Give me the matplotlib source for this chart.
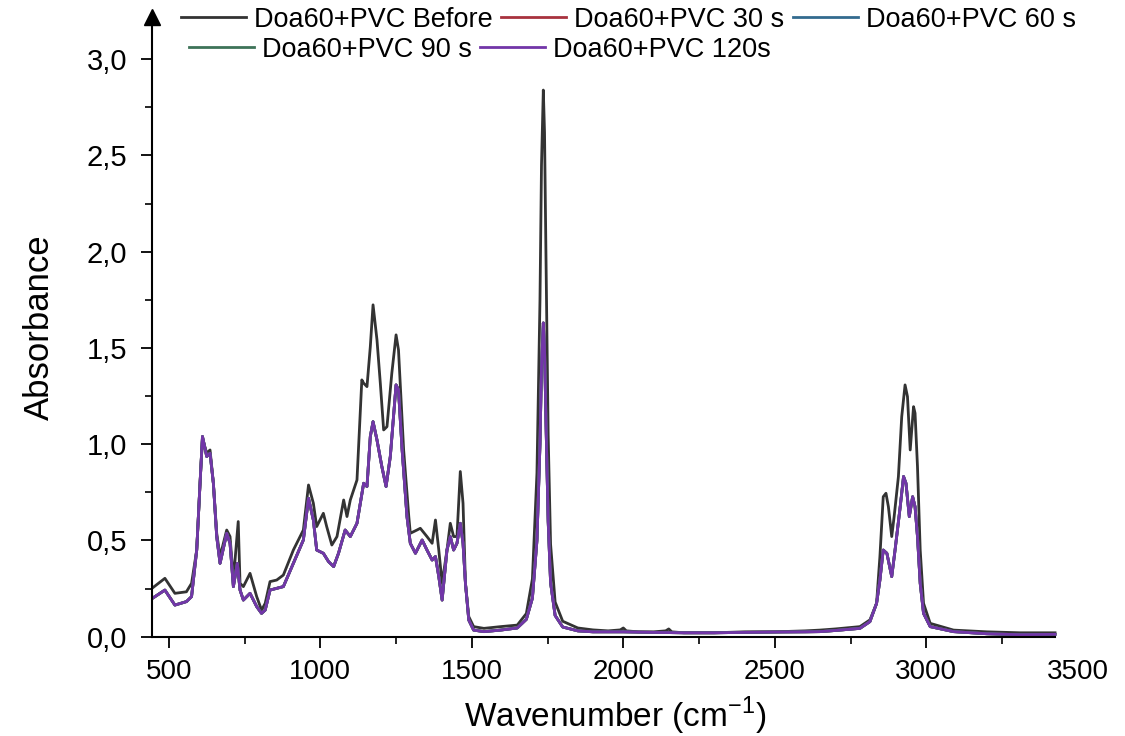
import matplotlib
matplotlib.use("Agg")
import matplotlib.pyplot as plt
from matplotlib.ticker import FixedLocator, MultipleLocator, FuncFormatter

plt.rcParams.update({
    "font.family": ["Liberation Sans", "DejaVu Sans"],
    "mathtext.fontset": "custom",
    "mathtext.rm": "Liberation Sans",
    "axes.spines.top": False,
    "axes.spines.right": False,
})

# --- data ------------------------------------------------------------------
wn_before = [437, 487, 520, 558, 575, 592, 603, 611, 625, 636, 647, 658, 669, 691,
             702, 713, 729, 735, 746, 768, 790, 806, 818, 834, 856, 878, 911, 944,
             961, 977, 988, 1010, 1021, 1038, 1055, 1077, 1088, 1099, 1121, 1137,
             1143, 1154, 1165, 1174, 1187, 1198, 1209, 1220, 1236, 1250, 1258, 1275,
             1292, 1297, 1319, 1330, 1352, 1369, 1380, 1391, 1402, 1418, 1429, 1440,
             1451, 1462, 1471, 1479, 1490, 1506, 1540, 1595, 1650, 1680, 1700, 1715,
             1725, 1730, 1736, 1740, 1745, 1752, 1760, 1775, 1800, 1850, 1900, 1950,
             1990, 2000, 2010, 2050, 2100, 2140, 2150, 2160, 2200, 2300, 2400, 2500,
             2600, 2649, 2700, 2781, 2814, 2836, 2847, 2858, 2867, 2875, 2886, 2894,
             2908, 2919, 2930, 2938, 2947, 2958, 2963, 2971, 2980, 2991, 3013, 3090,
             3200, 3310, 3425]
abs_before = [0.242, 0.303, 0.225, 0.233, 0.277, 0.450, 0.797, 1.031, 0.953, 0.970,
              0.797, 0.537, 0.416, 0.554, 0.520, 0.294, 0.598, 0.277, 0.260, 0.329,
              0.208, 0.138, 0.173, 0.286, 0.294, 0.320, 0.450, 0.554, 0.788, 0.693,
              0.572, 0.641, 0.572, 0.476, 0.520, 0.710, 0.624, 0.710, 0.814, 1.334,
              1.317, 1.299, 1.507, 1.724, 1.542, 1.317, 1.074, 1.091, 1.369, 1.568,
              1.490, 0.970, 0.624, 0.537, 0.554, 0.563, 0.520, 0.485, 0.606, 0.450,
              0.277, 0.450, 0.589, 0.520, 0.520, 0.858, 0.693, 0.277, 0.104, 0.052,
              0.043, 0.052, 0.060, 0.120, 0.300, 0.850, 1.750, 2.450, 2.840, 2.620,
              1.950, 1.050, 0.480, 0.180, 0.080, 0.045, 0.035, 0.030, 0.035, 0.045,
              0.030, 0.025, 0.025, 0.030, 0.040, 0.025, 0.020, 0.020, 0.025, 0.025,
              0.030, 0.034, 0.040, 0.052, 0.087, 0.173, 0.416, 0.727, 0.745, 0.675,
              0.520, 0.624, 0.831, 1.143, 1.308, 1.247, 0.970, 1.195, 1.161, 0.884,
              0.450, 0.173, 0.069, 0.034, 0.025, 0.020, 0.020]

# the four irradiated spectra lie on top of each other in the picture
wn_after = [437, 487, 520, 558, 575, 592, 603, 611, 625, 636, 647, 658, 669, 691,
            702, 713, 726, 735, 746, 768, 790, 806, 818, 834, 856, 878, 911, 944,
            961, 977, 988, 1010, 1027, 1044, 1060, 1082, 1099, 1121, 1143, 1154,
            1165, 1174, 1187, 1203, 1217, 1231, 1250, 1258, 1270, 1286, 1297, 1314,
            1336, 1352, 1369, 1380, 1391, 1402, 1418, 1429, 1440, 1451, 1462, 1471,
            1479, 1490, 1506, 1540, 1595, 1650, 1680, 1700, 1715, 1725, 1730, 1736,
            1740, 1745, 1752, 1760, 1775, 1800, 1850, 1900, 2000, 2100, 2200, 2300,
            2400, 2500, 2600, 2649, 2700, 2781, 2814, 2836, 2847, 2858, 2870, 2886,
            2897, 2914, 2925, 2933, 2944, 2955, 2963, 2971, 2980, 2991, 3013, 3090,
            3200, 3310, 3425]
abs_120s = [0.190, 0.242, 0.164, 0.182, 0.208, 0.450, 0.797, 1.040, 0.936, 0.953,
            0.797, 0.520, 0.381, 0.537, 0.485, 0.260, 0.381, 0.242, 0.190, 0.225,
            0.156, 0.121, 0.138, 0.242, 0.251, 0.260, 0.381, 0.502, 0.719, 0.606,
            0.450, 0.433, 0.390, 0.364, 0.433, 0.554, 0.520, 0.589, 0.797, 0.780,
            1.040, 1.117, 1.022, 0.884, 0.780, 0.936, 1.308, 1.282, 0.970, 0.624,
            0.485, 0.433, 0.502, 0.450, 0.398, 0.416, 0.312, 0.190, 0.450, 0.520,
            0.450, 0.485, 0.589, 0.485, 0.277, 0.086, 0.034, 0.026, 0.034, 0.045,
            0.090, 0.200, 0.500, 1.000, 1.400, 1.630, 1.500, 1.100, 0.600, 0.280,
            0.110, 0.050, 0.030, 0.025, 0.025, 0.022, 0.020, 0.020, 0.022, 0.024,
            0.025, 0.026, 0.032, 0.043, 0.078, 0.173, 0.294, 0.450, 0.433, 0.312,
            0.450, 0.675, 0.832, 0.797, 0.624, 0.727, 0.675, 0.520, 0.277, 0.121,
            0.052, 0.026, 0.015, 0.010, 0.012]
abs_30s = abs_120s
abs_60s = abs_120s
abs_90s = abs_120s

x_ticks = [500, 1000, 1500, 2000, 2500, 3000, 3500]
labels = ["Doa60+PVC Before", "Doa60+PVC 30 s", "Doa60+PVC 60 s",
          "Doa60+PVC 90 s", "Doa60+PVC 120s"]
colors = ["#333333", "#a8323e", "#336b8f", "#3d7358", "#7236a8"]

fig = plt.figure(figsize=(11.25, 7.36), dpi=100)
ax = fig.add_axes([0.135, 0.135, 0.823, 0.842])

series = [(wn_before, abs_before), (wn_after, abs_30s), (wn_after, abs_60s),
          (wn_after, abs_90s), (wn_after, abs_120s)]
lines = []
for (x, y), lab, col in zip(series, labels, colors):
    ln, = ax.plot(x, y, color=col, lw=2.0, label=lab)
    lines.append(ln)

# axis line stops at the end of the data, the 3500 label sits past it
ax.set_xlim(444, 3500)
ax.set_ylim(0, 3.22)
ax.spines["bottom"].set_bounds(444, 3425)
ax.xaxis.set_major_locator(FixedLocator(x_ticks))
ax.xaxis.set_minor_locator(FixedLocator([750, 1250, 1750, 2250, 2750, 3250]))
ax.yaxis.set_major_locator(MultipleLocator(0.5))
ax.yaxis.set_minor_locator(MultipleLocator(0.25))
ax.yaxis.set_major_formatter(FuncFormatter(lambda v, p: f"{v:.1f}".replace(".", ",")))
ax.tick_params(which="major", direction="out", length=8, width=1.3, labelsize=20)
ax.tick_params(which="minor", direction="out", length=5, width=1.2)
ax.tick_params(axis="x", pad=8)
ax.tick_params(axis="y", pad=10, labelsize=21)
ax.xaxis.get_major_ticks()[-1].tick1line.set_visible(False)
for s in ["left", "bottom"]:
    ax.spines[s].set_linewidth(1.5)
ax.plot(0, 1, "^", color="k", ms=11, transform=ax.transAxes, clip_on=False)

ax.set_xlabel("Wavenumber (cm$^{-1}$)", fontsize=24, labelpad=7)
ax.set_ylabel("Absorbance", fontsize=25, labelpad=22)

leg_kw = dict(frameon=False, fontsize=19.5, handlelength=2.4, handletextpad=0.3,
              columnspacing=0.3, borderpad=0, borderaxespad=0)
leg1 = fig.legend(lines[:3], labels[:3], ncol=3, loc="upper left",
                  bbox_to_anchor=(0.161, 0.991), **leg_kw)
leg2 = fig.legend(lines[3:], labels[3:], ncol=2, loc="upper left",
                  bbox_to_anchor=(0.168, 0.950), **leg_kw)

fig.savefig("out.png", dpi=100)
